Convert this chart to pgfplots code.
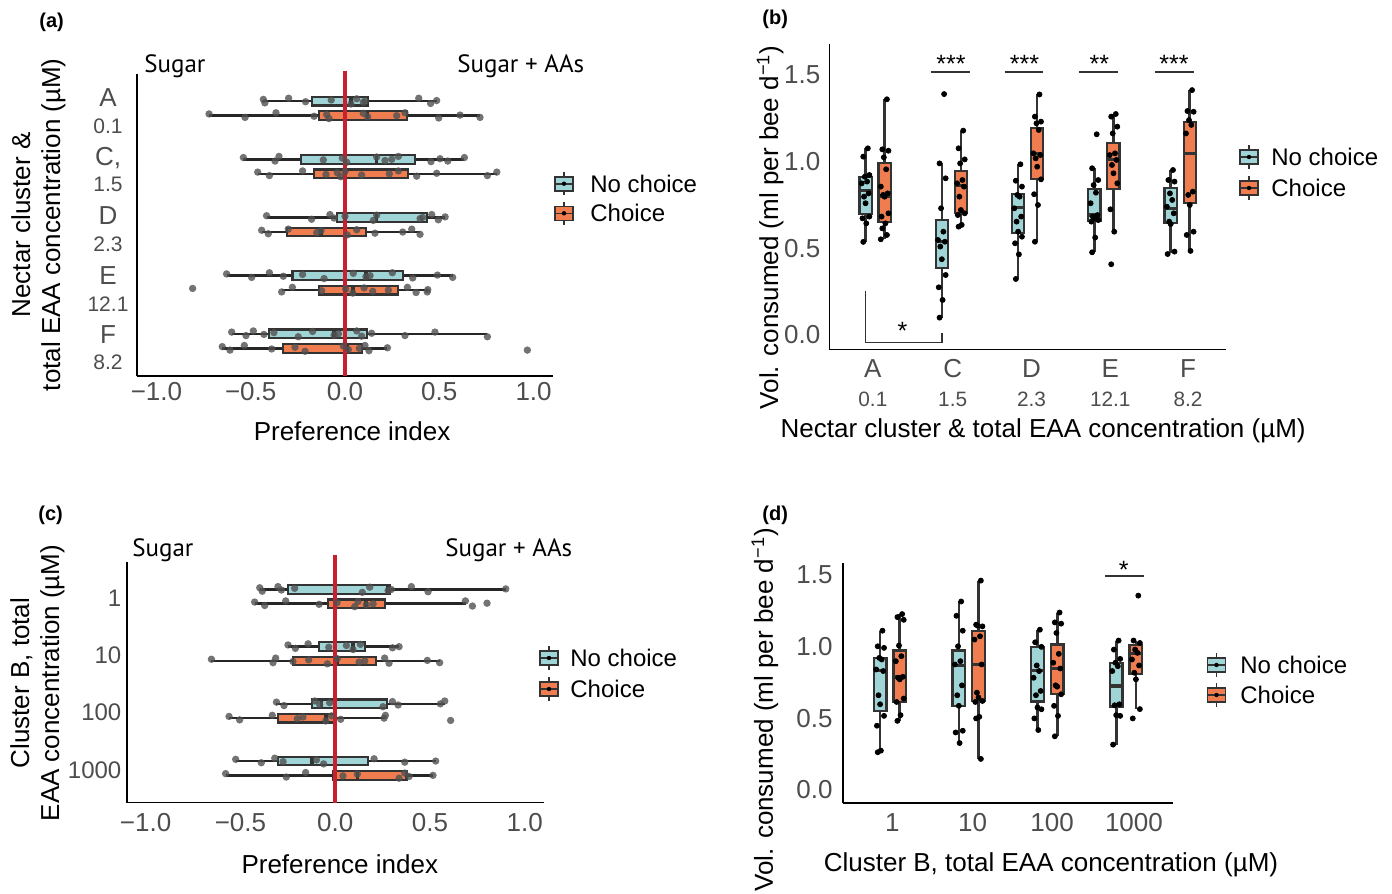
\documentclass[border=0pt]{standalone}
\usepackage{fontspec}
\setmainfont{Liberation Sans}
\newfontfamily\ptsans{PT Sans}
\usepackage{pgfplots}
\pgfplotsset{compat=1.18}
\usepgfplotslibrary{statistics}
\definecolor{nocol}{RGB}{160,213,216}
\definecolor{chcol}{RGB}{239,125,80}
\definecolor{boxline}{RGB}{51,51,51}
\definecolor{vred}{RGB}{200,32,46}
\definecolor{tickgray}{RGB}{77,77,77}
\definecolor{ptgray}{RGB}{80,80,80}

\newcommand\bx[7]{\addplot[#7, boxplot/every whisker/.style={line width=1.3pt, black!85}, boxplot prepared={draw direction=x, draw position=#1, lower whisker=#2, lower quartile=#3, median=#4, upper quartile=#5, upper whisker=#6}] coordinates {};}
\newcommand\by[7]{\addplot[#7, boxplot/every whisker/.style={line width=1.3pt, black!80}, boxplot prepared={draw direction=y, draw position=#1, lower whisker=#2, lower quartile=#3, median=#4, upper quartile=#5, upper whisker=#6}] coordinates {};}
\newcommand\sn[1]{{\fontsize{10.5}{11}\selectfont #1}}
\newcommand\sm[1]{{\fontsize{10.4}{12}\selectfont #1}}

\newcommand\legglyph[3]{\begin{scope}[shift={(#1,#2)}]
 \draw[boxline, line width=0.8pt] (0,-5.8pt) -- (0,5.8pt);
 \draw[boxline, line width=0.8pt, fill=#3] (-4.5pt,-3.5pt) rectangle (4.5pt,3.5pt);
 \draw[boxline, line width=0.8pt] (-4.5pt,0) -- (4.5pt,0);
 \fill[black] (0,0) circle (1.1pt);
\end{scope}}

\pgfplotsset{
 panel/.style={scale only axis, clip=false, axis x line*=bottom, axis y line*=left,
   axis line style={-, line width=0.8pt, black}, major tick length=0pt,
   tick label style={text=tickgray, font=\fontsize{13}{15}\selectfont, inner sep=0pt},
   label style={font=\fontsize{13}{15}\selectfont, black, align=center},
   boxplot/whisker extend=0,
   boxplot/every box/.style={line width=1.1pt},
   boxplot/every median/.style={line width=1.8pt},
 },
 nb/.style={draw=boxline, fill=nocol, line width=1.1pt},
 cb/.style={draw=boxline, fill=chcol, line width=1.1pt},
 gp/.style={only marks, mark=*, mark size=1.85pt, color=ptgray, mark options={solid, draw opacity=0, fill=ptgray, fill opacity=0.8}},
 bp/.style={only marks, mark=*, mark size=1.25pt, color=black, mark options={solid, fill=black}},
}

\begin{document}
\begin{tikzpicture}
\useasboundingbox (0,0) rectangle (696pt,-447pt);

% ---------------- (a)
\begin{axis}[panel, at={(68.5pt,-188pt)}, anchor=south west, width=208pt, height=151.25pt,
  xmin=-1.103, xmax=1.103, ymin=0.4, ymax=5.6,
  xtick={-1,-0.5,0,0.5,1}, xticklabels={−1.0,−0.5,0.0,0.5,1.0},
  xticklabel style={anchor=north, yshift=-2.9pt},
  ytick={0.89,1.89,2.92,3.95,4.955},
  yticklabels={{F\\\sn{8.2}},{E\\\sn{12.1}},{D\\\sn{2.3}},{C,\\\sn{1.5}},{A\\\sn{0.1}}},
  yticklabel style={anchor=center, align=center, xshift=-14.5pt, font=\fontsize{13}{13.3}\selectfont},
  xlabel={Preference index}, xlabel style={at={(axis description cs:0.517,-0.182)}, anchor=center},
  ylabel={Nectar cluster \&\\total EAA concentration (µM)},
  ylabel style={at={(axis description cs:-0.237,0.5)}, anchor=center},
  boxplot/box extend=0.15]
\bx{5.125}{-0.433}{-0.177}{0.032}{0.12}{0.486}{nb}
\bx{4.875}{-0.721}{-0.136}{0.12}{0.327}{0.716}{cb}
\bx{4.125}{-0.539}{-0.233}{0.168}{0.371}{0.633}{nb}
\bx{3.875}{-0.463}{-0.164}{0}{0.332}{0.805}{cb}
\bx{3.125}{-0.416}{-0.041}{0.168}{0.433}{0.531}{nb}
\bx{2.875}{-0.442}{-0.306}{-0.127}{0.111}{0.398}{cb}
\bx{2.125}{-0.628}{-0.278}{0.111}{0.306}{0.571}{nb}
\bx{1.875}{-0.336}{-0.140}{0.041}{0.283}{0.439}{cb}
\bx{1.125}{-0.601}{-0.405}{-0.058}{0.117}{0.755}{nb}
\bx{0.875}{-0.651}{-0.327}{0.012}{0.092}{0.225}{cb}
\draw[vred, line width=1.8pt] (axis cs:0,0.4) -- (axis cs:0,5.64);
\addplot[gp] coordinates {(-0.433,5.155)(-0.425,5.095)(-0.299,5.175)(-0.209,5.115)(-0.073,5.145)(0.032,5.075)(0.062,5.165)(0.097,5.105)(0.106,5.125)(0.391,5.175)(0.454,5.085)(0.486,5.135)};
\addplot[gp] coordinates {(-0.721,4.905)(-0.530,4.845)(-0.366,4.925)(-0.164,4.865)(-0.097,4.895)(-0.085,4.825)(0.097,4.915)(0.12,4.855)(0.274,4.875)(0.318,4.925)(0.497,4.835)(0.61,4.885)(0.716,4.845)};
\addplot[gp] coordinates {(-0.539,4.155)(-0.371,4.095)(-0.350,4.175)(-0.115,4.115)(-0.014,4.145)(0.009,4.075)(0.168,4.165)(0.212,4.105)(0.248,4.125)(0.283,4.175)(0.456,4.085)(0.504,4.135)(0.545,4.095)(0.633,4.155)};
\addplot[gp] coordinates {(-0.463,3.905)(-0.401,3.845)(-0.225,3.925)(-0.101,3.865)(-0.041,3.895)(-0.023,3.825)(0,3.915)(0.088,3.855)(0.235,3.875)(0.283,3.925)(0.380,3.835)(0.486,3.885)(0.755,3.845)(0.805,3.905)};
\addplot[gp] coordinates {(-0.416,3.155)(-0.177,3.095)(-0.080,3.175)(-0.058,3.115)(0,3.145)(0.150,3.075)(0.168,3.165)(0.398,3.105)(0.412,3.125)(0.46,3.175)(0.495,3.085)(0.531,3.135)};
\addplot[gp] coordinates {(-0.442,2.905)(-0.407,2.845)(-0.301,2.925)(-0.150,2.865)(-0.127,2.895)(0.012,2.825)(0.062,2.915)(0.159,2.855)(0.306,2.875)(0.354,2.925)(0.398,2.835)};
\addplot[gp] coordinates {(-0.628,2.155)(-0.495,2.095)(-0.401,2.175)(-0.327,2.115)(-0.225,2.145)(-0.111,2.075)(0.044,2.165)(0.111,2.105)(0.133,2.125)(0.251,2.175)(0.359,2.085)(0.490,2.135)(0.571,2.095)};
\addplot[gp] coordinates {(-0.808,1.905)(-0.336,1.845)(-0.279,1.925)(-0.124,1.865)(0.004,1.895)(0.041,1.825)(0.101,1.915)(0.147,1.855)(0.230,1.875)(0.331,1.925)(0.377,1.835)(0.439,1.885)(0.436,1.845)};
\addplot[gp] coordinates {(-0.601,1.155)(-0.525,1.095)(-0.486,1.175)(-0.430,1.115)(-0.377,1.145)(-0.248,1.075)(-0.172,1.165)(-0.058,1.105)(-0.035,1.125)(0.062,1.175)(0.088,1.085)(0.141,1.135)(0.318,1.095)(0.477,1.155)(0.755,1.075)};
\addplot[gp] coordinates {(-0.651,0.905)(-0.610,0.845)(-0.534,0.925)(-0.389,0.865)(-0.265,0.895)(-0.212,0.825)(-0.009,0.915)(0.018,0.855)(0.076,0.875)(0.106,0.925)(0.127,0.835)(0.225,0.885)(0.967,0.845)};
\end{axis}

% ---------------- (b)
\begin{axis}[panel, at={(414.65pt,-174.75pt)}, anchor=south west, width=198.35pt, height=152.75pt,
  xmin=0.4, xmax=5.6, ymin=-0.084, ymax=1.679,
  xtick={0.971,2.017,3.05,4.083,5.102},
  xticklabels={{A\\\sm{0.1}},{C\\\sm{1.5}},{D\\\sm{2.3}},{E\\\sm{12.1}},{F\\\sm{8.2}}},
  xticklabel style={anchor=center, align=center, yshift=-17pt, font=\fontsize{13}{14.5}\selectfont},
  ytick={0,0.5,1,1.5}, yticklabels={0.0,0.5,1.0,1.5},
  yticklabel style={anchor=east, xshift=-4.3pt},
  xlabel={Nectar cluster \& total EAA concentration (µM)},
  xlabel style={at={(axis description cs:0.539,-0.267)}, anchor=center},
  ylabel={Vol. consumed (ml per bee d\textsuperscript{−1})},
  ylabel style={at={(axis description cs:-0.149,0.40)}, anchor=center},
  boxplot/box extend=0.16, boxplot/every median/.style={line width=1.6pt}]
\by{0.875}{0.537}{0.698}{0.833}{0.910}{1.077}{nb}
\by{1.125}{0.552}{0.654}{0.802}{0.990}{1.360}{cb}
\by{1.875}{0.1}{0.388}{0.538}{0.663}{0.990}{nb}
\by{2.125}{0.625}{0.702}{0.862}{0.948}{1.179}{cb}
\by{2.875}{0.323}{0.590}{0.735}{0.812}{0.985}{nb}
\by{3.125}{0.538}{0.898}{1.048}{1.196}{1.388}{cb}
\by{3.875}{0.477}{0.658}{0.692}{0.842}{0.962}{nb}
\by{4.125}{0.596}{0.840}{1.013}{1.110}{1.275}{cb}
\by{4.875}{0.471}{0.644}{0.731}{0.850}{0.952}{nb}
\by{5.125}{0.485}{0.760}{1.048}{1.231}{1.413}{cb}
\addplot[bp] coordinates {(0.905,1.077)(0.845,1.029)(0.925,0.923)(0.865,0.913)(0.895,0.885)(0.825,0.875)(0.915,0.817)(0.855,0.798)(0.875,0.760)(0.925,0.683)(0.835,0.673)(0.885,0.644)(0.845,0.537)};
\addplot[bp] coordinates {(1.155,1.360)(1.095,1.071)(1.175,1.063)(1.115,1.025)(1.145,0.956)(1.075,0.856)(1.165,0.817)(1.105,0.808)(1.125,0.798)(1.175,0.702)(1.085,0.683)(1.135,0.644)(1.095,0.615)(1.155,0.577)(1.075,0.552)};
\addplot[bp] coordinates {(1.905,1.390)(1.845,0.990)(1.925,0.904)(1.865,0.731)(1.895,0.596)(1.825,0.548)(1.915,0.538)(1.855,0.510)(1.875,0.437)(1.925,0.346)(1.835,0.275)(1.885,0.202)(1.845,0.1)};
\addplot[bp] coordinates {(2.155,1.179)(2.095,1.077)(2.175,1.013)(2.115,0.990)(2.145,0.894)(2.075,0.875)(2.165,0.856)(2.105,0.798)(2.125,0.721)(2.175,0.702)(2.085,0.692)(2.135,0.635)(2.095,0.625)};
\addplot[bp] coordinates {(2.905,0.985)(2.845,0.890)(2.925,0.856)(2.865,0.808)(2.895,0.798)(2.825,0.731)(2.915,0.683)(2.855,0.654)(2.875,0.596)(2.925,0.567)(2.835,0.529)(2.885,0.465)(2.845,0.323)};
\addplot[bp] coordinates {(3.155,1.388)(3.095,1.260)(3.175,1.231)(3.115,1.221)(3.145,1.183)(3.075,1.048)(3.165,1.038)(3.105,1.019)(3.125,0.971)(3.175,0.898)(3.085,0.812)(3.135,0.75)(3.095,0.538)};
\addplot[bp] coordinates {(3.905,1.158)(3.845,0.962)(3.925,0.894)(3.865,0.865)(3.895,0.821)(3.825,0.760)(3.915,0.692)(3.855,0.683)(3.875,0.673)(3.925,0.663)(3.835,0.654)(3.885,0.562)(3.845,0.477)};
\addplot[bp] coordinates {(4.155,1.275)(4.095,1.260)(4.175,1.202)(4.115,1.163)(4.145,1.048)(4.075,1.038)(4.165,1.010)(4.105,0.981)(4.125,0.933)(4.175,0.875)(4.085,0.725)(4.135,0.596)(4.095,0.408)};
\addplot[bp] coordinates {(4.905,0.952)(4.845,0.894)(4.925,0.885)(4.865,0.817)(4.895,0.779)(4.825,0.740)(4.915,0.702)(4.855,0.654)(4.875,0.640)(4.925,0.481)(4.835,0.467)};
\addplot[bp] coordinates {(5.155,1.413)(5.095,1.292)(5.175,1.288)(5.115,1.240)(5.145,1.212)(5.075,1.163)(5.165,0.827)(5.105,0.808)(5.125,0.750)(5.175,0.596)(5.085,0.577)(5.135,0.485)};
\draw[boxline, line width=0.9pt] (axis cs:1.729,1.516) -- (axis cs:2.239,1.516);
\draw[boxline, line width=0.9pt] (axis cs:2.697,1.516) -- (axis cs:3.207,1.516);
\draw[boxline, line width=0.9pt] (axis cs:3.678,1.516) -- (axis cs:4.188,1.516);
\draw[boxline, line width=0.9pt] (axis cs:4.672,1.516) -- (axis cs:5.182,1.516);
\node[font=\fontsize{12.5}{14}\selectfont] at (axis cs:1.995,1.565) {***};
\node[font=\fontsize{12.5}{14}\selectfont] at (axis cs:2.958,1.565) {***};
\node[font=\fontsize{12.5}{14}\selectfont] at (axis cs:3.939,1.565) {**};
\node[font=\fontsize{12.5}{14}\selectfont] at (axis cs:4.919,1.565) {***};
\draw[boxline, line width=0.9pt] (axis cs:0.875,0.256) -- (axis cs:0.875,-0.044) -- (axis cs:1.875,-0.044) -- (axis cs:1.875,0.013);
\node[font=\fontsize{12.5}{14}\selectfont] at (axis cs:1.36,0.026) {*};
\end{axis}

% ---------------- (c)
\begin{axis}[panel, at={(63.35pt,-401.25pt)}, anchor=south west, width=208.5pt, height=120.1pt,
  xmin=-1.1, xmax=1.1, ymin=0.4, ymax=4.6,
  xtick={-1,-0.5,0,0.5,1}, xticklabels={−1.0,−0.5,0.0,0.5,1.0},
  xticklabel style={anchor=north, yshift=-5pt},
  ytick={0.97,1.97,2.97,3.97}, yticklabels={1000,100,10,1},
  yticklabel style={anchor=east, xshift=-2.5pt, font=\fontsize{12}{14}\selectfont},
  xlabel={Preference index}, xlabel style={at={(axis description cs:0.511,-0.256)}, anchor=center},
  ylabel={Cluster B, total\\EAA concentration (µM)},
  ylabel style={at={(axis description cs:-0.214,0.4975)}, anchor=center},
  boxplot/box extend=0.15]
\bx{4.125}{-0.398}{-0.249}{0.279}{0.288}{0.900}{nb}
\bx{3.875}{-0.425}{-0.038}{0.164}{0.261}{0.692}{cb}
\bx{3.125}{-0.249}{-0.087}{0.094}{0.156}{0.337}{nb}
\bx{2.875}{-0.653}{-0.223}{0.011}{0.214}{0.551}{cb}
\bx{2.125}{-0.310}{-0.122}{-0.073}{0.275}{0.578}{nb}
\bx{1.875}{-0.560}{-0.300}{-0.050}{0.006}{0.265}{cb}
\bx{1.125}{-0.525}{-0.300}{-0.122}{0.173}{0.530}{nb}
\bx{0.875}{-0.578}{-0.011}{0.117}{0.376}{0.516}{cb}
\draw[vred, line width=1.8pt] (axis cs:0,0.4) -- (axis cs:0,4.73);
\addplot[gp] coordinates {(-0.398,4.155)(-0.385,4.095)(-0.302,4.175)(-0.284,4.115)(-0.214,4.145)(0.143,4.075)(0.182,4.165)(0.279,4.105)(0.296,4.125)(0.402,4.175)(0.490,4.085)(0.900,4.135)};
\addplot[gp] coordinates {(-0.425,3.905)(-0.372,3.845)(-0.261,3.925)(-0.085,3.865)(0.010,3.895)(0.103,3.825)(0.120,3.915)(0.164,3.855)(0.200,3.875)(0.687,3.925)(0.724,3.835)(0.801,3.885)};
\addplot[gp] coordinates {(-0.249,3.155)(-0.210,3.095)(-0.143,3.175)(-0.034,3.115)(0.059,3.145)(0.094,3.075)(0.133,3.165)(0.302,3.105)(0.337,3.125)};
\addplot[gp] coordinates {(-0.653,2.905)(-0.328,2.845)(-0.314,2.925)(-0.223,2.865)(-0.140,2.895)(-0.041,2.825)(0.011,2.915)(0.126,2.855)(0.156,2.875)(0.261,2.925)(0.284,2.835)(0.486,2.885)(0.551,2.845)};
\addplot[gp] coordinates {(-0.310,2.155)(-0.270,2.095)(-0.108,2.175)(-0.082,2.115)(-0.029,2.145)(0.252,2.075)(0.302,2.165)(0.332,2.105)(0.555,2.125)(0.578,2.175)};
\addplot[gp] coordinates {(-0.560,1.905)(-0.504,1.845)(-0.332,1.925)(-0.200,1.865)(-0.170,1.895)(-0.050,1.825)(-0.020,1.915)(0.029,1.855)(0.258,1.875)(0.265,1.925)(0.609,1.835)};
\addplot[gp] coordinates {(-0.525,1.155)(-0.390,1.095)(-0.319,1.175)(-0.275,1.115)(-0.099,1.145)(-0.061,1.075)(0.205,1.165)(0.367,1.105)(0.530,1.125)};
\addplot[gp] coordinates {(-0.578,0.905)(-0.258,0.845)(-0.156,0.925)(0.041,0.865)(0.117,0.895)(0.337,0.825)(0.367,0.915)(0.390,0.855)(0.516,0.875)};
\end{axis}

% ---------------- (d)
\begin{axis}[panel, at={(421.35pt,-401.5pt)}, anchor=south west, width=165.3pt, height=120.15pt,
  xmin=0.4, xmax=4.6, ymin=-0.093, ymax=1.586,
  xtick={1.03,2.05,3.06,4.1}, xticklabels={1,10,100,1000},
  xticklabel style={anchor=north, yshift=-4.9pt},
  ytick={0,0.5,1,1.5}, yticklabels={0.0,0.5,1.0,1.5},
  yticklabel style={anchor=east, xshift=-4.9pt},
  xlabel={Cluster B, total EAA concentration (µM)},
  xlabel style={at={(axis description cs:0.63,-0.258)}, anchor=center},
  ylabel={Vol. consumed (ml per bee d\textsuperscript{−1})},
  ylabel style={at={(axis description cs:-0.235,0.387)}, anchor=center},
  boxplot/box extend=0.161, boxplot/every median/.style={line width=1.6pt}]
\by{0.875}{0.262}{0.551}{0.833}{0.921}{1.111}{nb}
\by{1.125}{0.481}{0.613}{0.787}{0.972}{1.227}{cb}
\by{1.875}{0.326}{0.586}{0.868}{0.972}{1.315}{nb}
\by{2.125}{0.215}{0.620}{0.875}{1.111}{1.461}{cb}
\by{2.875}{0.417}{0.616}{0.833}{0.998}{1.118}{nb}
\by{3.125}{0.373}{0.671}{0.847}{1.014}{1.238}{cb}
\by{3.875}{0.315}{0.581}{0.725}{0.887}{1.042}{nb}
\by{4.125}{0.563}{0.810}{0.949}{1.009}{1.042}{cb}
\addplot[bp] coordinates {(0.905,1.111)(0.845,1.002)(0.925,0.991)(0.865,0.921)(0.895,0.910)(0.825,0.840)(0.915,0.829)(0.855,0.660)(0.875,0.597)(0.925,0.516)(0.835,0.447)(0.885,0.273)(0.845,0.262)};
\addplot[bp] coordinates {(1.155,1.227)(1.095,1.206)(1.175,1.187)(1.115,1.007)(1.145,0.933)(1.075,0.898)(1.165,0.789)(1.105,0.782)(1.125,0.771)(1.175,0.637)(1.085,0.613)(1.135,0.521)(1.095,0.481)};
\addplot[bp] coordinates {(1.905,1.315)(1.845,1.215)(1.925,1.111)(1.865,1.002)(1.895,0.898)(1.825,0.875)(1.915,0.729)(1.855,0.660)(1.875,0.586)(1.925,0.412)(1.835,0.400)(1.885,0.326)};
\addplot[bp] coordinates {(2.155,1.461)(2.095,1.153)(2.175,1.141)(2.115,1.146)(2.145,1.072)(2.075,1.049)(2.165,0.875)(2.105,0.678)(2.125,0.644)(2.175,0.620)(2.085,0.613)(2.135,0.509)(2.095,0.498)(2.155,0.215)};
\addplot[bp] coordinates {(2.905,1.118)(2.845,1.030)(2.925,0.998)(2.865,0.868)(2.895,0.829)(2.825,0.782)(2.915,0.690)(2.855,0.660)(2.875,0.574)(2.925,0.562)(2.835,0.498)(2.885,0.417)};
\addplot[bp] coordinates {(3.155,1.238)(3.095,1.169)(3.175,1.160)(3.115,1.095)(3.145,0.949)(3.075,0.887)(3.165,0.847)(3.105,0.729)(3.125,0.720)(3.175,0.667)(3.085,0.586)(3.135,0.516)(3.095,0.373)};
\addplot[bp] coordinates {(3.905,1.042)(3.845,0.979)(3.925,0.914)(3.865,0.887)(3.895,0.863)(3.825,0.829)(3.915,0.597)(3.855,0.590)(3.875,0.521)(3.925,0.516)(3.835,0.315)};
\addplot[bp] coordinates {(4.155,1.356)(4.095,1.042)(4.175,1.025)(4.115,0.979)(4.145,0.956)(4.075,0.910)(4.165,0.868)(4.105,0.817)(4.125,0.771)(4.175,0.563)(4.085,0.498)};
\draw[boxline, line width=0.9pt] (axis cs:3.733,1.493) -- (axis cs:4.227,1.493);
\node[font=\fontsize{12.5}{14}\selectfont] at (axis cs:3.97,1.535) {*};
\end{axis}

% ---------------- legends and annotations
\legglyph{282pt}{-91.85pt}{nocol}
\legglyph{282pt}{-106.65pt}{chcol}
\node[anchor=west, inner sep=0pt, font=\fontsize{12}{14}\selectfont] at (295pt,-91.85pt) {No choice};
\node[anchor=west, inner sep=0pt, font=\fontsize{12}{14}\selectfont] at (295pt,-106.65pt) {Choice};

\legglyph{624.5pt}{-78.5pt}{nocol}
\legglyph{624.5pt}{-94pt}{chcol}
\node[anchor=west, inner sep=0pt, font=\fontsize{12}{14}\selectfont] at (635.5pt,-78.5pt) {No choice};
\node[anchor=west, inner sep=0pt, font=\fontsize{12}{14}\selectfont] at (635.5pt,-94pt) {Choice};

\legglyph{274.5pt}{-329pt}{nocol}
\legglyph{274.5pt}{-344.5pt}{chcol}
\node[anchor=west, inner sep=0pt, font=\fontsize{12}{14}\selectfont] at (285pt,-329pt) {No choice};
\node[anchor=west, inner sep=0pt, font=\fontsize{12}{14}\selectfont] at (285pt,-344.5pt) {Choice};

\legglyph{608.25pt}{-332.5pt}{nocol}
\legglyph{608.25pt}{-347.5pt}{chcol}
\node[anchor=west, inner sep=0pt, font=\fontsize{12}{14}\selectfont] at (620pt,-332.5pt) {No choice};
\node[anchor=west, inner sep=0pt, font=\fontsize{12}{14}\selectfont] at (620pt,-347.5pt) {Choice};

\node[anchor=base west, inner sep=0pt, font=\ptsans\fontsize{12.5}{14}\selectfont] at (72pt,-36pt) {Sugar};
\node[anchor=base west, inner sep=0pt, font=\ptsans\fontsize{12.5}{14}\selectfont] at (228.5pt,-36pt) {Sugar + AAs};
\node[anchor=base west, inner sep=0pt, font=\ptsans\fontsize{12.5}{14}\selectfont] at (66pt,-278pt) {Sugar};
\node[anchor=base west, inner sep=0pt, font=\ptsans\fontsize{12.5}{14}\selectfont] at (222.5pt,-278pt) {Sugar + AAs};

\node[anchor=base west, inner sep=0pt, font=\bfseries\fontsize{10}{12}\selectfont] at (19.5pt,-13.5pt) {(a)};
\node[anchor=base west, inner sep=0pt, font=\bfseries\fontsize{10}{12}\selectfont] at (381pt,-12.5pt) {(b)};
\node[anchor=base west, inner sep=0pt, font=\bfseries\fontsize{10}{12}\selectfont] at (19pt,-260pt) {(c)};
\node[anchor=base west, inner sep=0pt, font=\bfseries\fontsize{10}{12}\selectfont] at (381pt,-260pt) {(d)};
\end{tikzpicture}
\end{document}
